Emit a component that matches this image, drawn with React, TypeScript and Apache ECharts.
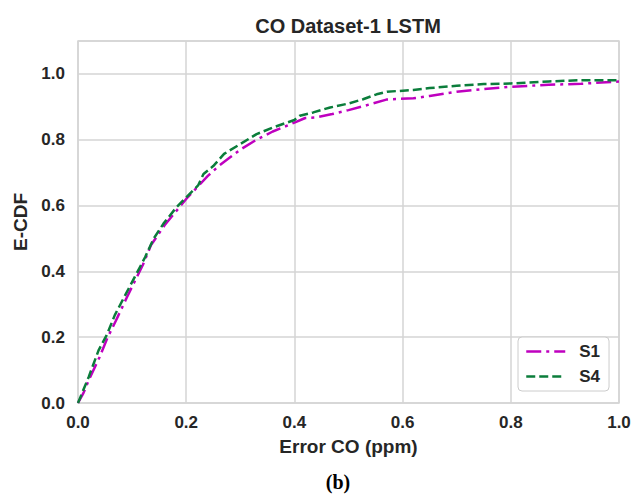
import React, { useEffect, useRef } from "react";
import * as echarts from "echarts";

const TITLE = "CO Dataset-1 LSTM";
const X_NAME = "Error CO (ppm)";
const Y_NAME = "E-CDF";
const PANEL = "(b)";
const SERIES_NAMES = ["S1", "S4"];

// Error CO (ppm) values and E-CDF values
const s1X = [0, 0.01, 0.02, 0.04, 0.055, 0.07, 0.09, 0.105, 0.12, 0.135, 0.16, 0.185, 0.2, 0.22, 0.24, 0.26, 0.28, 0.3, 0.33, 0.36, 0.4, 0.42, 0.44, 0.47, 0.5, 0.53, 0.57, 0.62, 0.65, 0.7, 0.75, 0.8, 0.87, 0.93, 1.0];
const s1Y = [0, 0.03, 0.07, 0.14, 0.2, 0.25, 0.32, 0.37, 0.42, 0.48, 0.54, 0.59, 0.62, 0.655, 0.69, 0.72, 0.745, 0.77, 0.8, 0.825, 0.852, 0.866, 0.868, 0.878, 0.89, 0.903, 0.922, 0.926, 0.933, 0.946, 0.954, 0.961, 0.967, 0.97, 0.977];

const s4X = [0, 0.01, 0.02, 0.038, 0.053, 0.068, 0.087, 0.105, 0.124, 0.14, 0.158, 0.182, 0.2, 0.222, 0.232, 0.25, 0.27, 0.3, 0.33, 0.36, 0.4, 0.41, 0.435, 0.466, 0.5, 0.527, 0.552, 0.571, 0.62, 0.65, 0.7, 0.75, 0.8, 0.87, 0.93, 1.0];
const s4Y = [0, 0.04, 0.08, 0.16, 0.206, 0.267, 0.327, 0.383, 0.443, 0.5, 0.545, 0.595, 0.625, 0.661, 0.696, 0.72, 0.757, 0.787, 0.817, 0.837, 0.86, 0.873, 0.883, 0.898, 0.91, 0.923, 0.938, 0.946, 0.951, 0.957, 0.964, 0.969, 0.971, 0.977, 0.981, 0.981];

const X_TICKS = [0, 0.2, 0.4, 0.6, 0.8, 1.0];
const Y_TICKS = [0, 0.2, 0.4, 0.6, 0.8, 1.0];

const pairs = (xs: number[], ys: number[]) => xs.map((x, i) => [x, ys[i]]);

const FONT = "'Liberation Sans', Arial, sans-serif";
const TEXT_COLOR = "#262626";
const GRID_COLOR = "#d4d4d4";

export default function App() {
  const ref = useRef<HTMLDivElement>(null);
  useEffect(() => {
    if (!ref.current) return;
    const chart = echarts.init(ref.current, undefined, { renderer: "svg" });
    const option: any = {
      animation: false,
      backgroundColor: "#ffffff",
      grid: {
        left: 78,
        right: 22,
        top: 41,
        bottom: 92,
        show: true,
        borderColor: GRID_COLOR,
        borderWidth: 1.5,
        containLabel: false,
      },
      graphic: [
        {
          type: "text",
          x: 348,
          y: 26,
          style: {
            text: TITLE,
            fill: TEXT_COLOR,
            font: `bold 20px ${FONT}`,
            textAlign: "center",
            textVerticalAlign: "middle",
          },
        },
        {
          type: "text",
          x: 338,
          y: 482,
          style: {
            text: PANEL,
            fill: "#000000",
            font: `bold 20px 'Liberation Serif', 'Times New Roman', serif`,
            textAlign: "center",
            textVerticalAlign: "middle",
          },
        },
      ],
      legend: {
        data: SERIES_NAMES,
        orient: "vertical",
        left: 518,
        top: 337,
        itemWidth: 39,
        itemHeight: 14,
        itemGap: 8,
        padding: [6, 9, 6, 7],
        borderColor: "#cccccc",
        borderWidth: 1,
        borderRadius: 4,
        backgroundColor: "rgba(255,255,255,0.85)",
        itemStyle: { opacity: 0 },
        lineStyle: { width: 2.5 },
        textStyle: {
          color: TEXT_COLOR,
          fontFamily: FONT,
          fontWeight: "bold",
          fontSize: 17,
          padding: [0, 0, 0, 9],
        },
      },
      xAxis: {
        type: "value",
        min: X_TICKS[0],
        max: X_TICKS[X_TICKS.length - 1],
        interval: 0.2,
        name: X_NAME,
        nameLocation: "middle",
        nameGap: 34,
        nameTextStyle: {
          color: TEXT_COLOR,
          fontFamily: FONT,
          fontWeight: "bold",
          fontSize: 19,
        },
        axisLine: { show: false },
        axisTick: { show: false },
        axisLabel: {
          color: TEXT_COLOR,
          fontFamily: FONT,
          fontWeight: "bold",
          fontSize: 17,
          margin: 11,
          formatter: (v: number) => v.toFixed(1),
        },
        splitLine: { show: true, lineStyle: { color: GRID_COLOR, width: 1.5 } },
      },
      yAxis: {
        type: "value",
        min: Y_TICKS[0],
        max: 1.1,
        interval: 0.2,
        name: Y_NAME,
        nameLocation: "middle",
        nameGap: 43,
        nameTextStyle: {
          color: TEXT_COLOR,
          fontFamily: FONT,
          fontWeight: "bold",
          fontSize: 19,
        },
        axisLine: { show: false },
        axisTick: { show: false },
        axisLabel: {
          color: TEXT_COLOR,
          fontFamily: FONT,
          fontWeight: "bold",
          fontSize: 17,
          margin: 13,
          showMaxLabel: false,
          formatter: (v: number) => (Y_TICKS.some((t) => Math.abs(t - v) < 1e-6) ? v.toFixed(1) : ""),
        },
        splitLine: { show: true, lineStyle: { color: GRID_COLOR, width: 1.5 } },
      },
      series: [
        {
          name: SERIES_NAMES[0],
          type: "line",
          data: pairs(s1X, s1Y),
          symbol: "none",
          z: 2,
          lineStyle: { color: "#bf00bf", width: 2.5, type: [15, 5, 3, 5] },
          itemStyle: { color: "#bf00bf" },
        },
        {
          name: SERIES_NAMES[1],
          type: "line",
          data: pairs(s4X, s4Y),
          symbol: "none",
          z: 3,
          lineStyle: { color: "#0b7d3b", width: 2.5, type: [9, 4] },
          itemStyle: { color: "#0b7d3b" },
        },
      ],
    };
    chart.setOption(option);
    return () => chart.dispose();
  }, []);
  return (
    <div
      ref={ref}
      style={{ position: "fixed", left: 0, top: 0, width: 641, height: 495, background: "#fff" }}
    />
  );
}
